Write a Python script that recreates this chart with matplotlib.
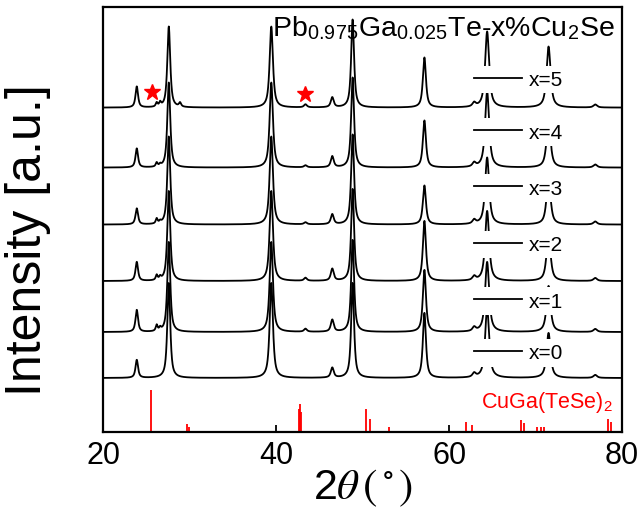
import numpy as np
import matplotlib
matplotlib.use("Agg")
import matplotlib.pyplot as plt
from matplotlib.lines import Line2D

plt.rcParams['font.family'] = ['Liberation Sans', 'DejaVu Sans']
plt.rcParams['mathtext.fontset'] = 'stix'

# ---------------- data ----------------
samples = ['x=0', 'x=1', 'x=2', 'x=3', 'x=4', 'x=5']
# peak positions (2theta, deg) and widths
peak_pos = [23.9, 26.2, 26.6, 27.6, 28.9, 39.45, 43.4, 46.5, 48.85, 57.15, 62.9, 64.4, 71.5, 76.9]
peak_fwhm = [0.35, 0.25, 0.25, 0.40, 0.30, 0.45, 0.40, 0.40, 0.40, 0.42, 0.45, 0.55, 0.55, 0.50]
# peak heights per sample (a.u.)
h_x0 = [18, 0, 0, 95, 0, 95, 0, 10, 95, 65, 4, 70, 45, 3]
h_x1 = [22, 6, 3, 90, 0, 90, 3, 12, 92, 62, 4, 70, 46, 3]
h_x2 = [19, 5, 3, 90, 0, 90, 3, 12, 92, 60, 4, 70, 47, 3]
h_x3 = [16, 5, 2, 88, 0, 88, 2, 10, 90, 39, 4, 67, 47, 3]
h_x4 = [19, 4, 2, 85, 0, 85, 2, 11, 90, 47, 4, 76, 48, 3]
h_x5 = [21, 4, 4, 81, 4, 81, 3, 10, 88, 50, 4, 76, 61, 3]
heights = [h_x0, h_x1, h_x2, h_x3, h_x4, h_x5]
offsets = [54, 100, 151, 207.5, 264.5, 324.5]

# CuGa(TeSe)2 reference pattern
ref_pos = [25.6, 29.7, 29.9, 42.6, 42.75, 42.85, 50.45, 50.85, 53.1,
           61.9, 62.6, 68.35, 68.65, 70.2, 70.6, 71.0, 78.4, 78.7]
ref_int = [42, 8, 5, 23, 28, 20, 23, 13, 5,
           10, 7, 12, 9, 5, 5, 5, 13, 10]

star_pos = [25.7, 43.35]
star_y = [340, 338]

xticks = [20, 40, 60, 80]

# ---------------- figure ----------------
fig = plt.figure(figsize=(6.4, 5.1), dpi=100)
ax = fig.add_axes([0.161, 0.151, 0.811, 0.833])

tt = np.linspace(20, 80, 6001)
for off, hs in zip(offsets, heights):
    y = np.zeros_like(tt) + off
    for p, w, h in zip(peak_pos, peak_fwhm, hs):
        g = (w / 2) ** 2
        lor = g / ((tt - p) ** 2 + g)
        gau = np.exp(-4 * np.log(2) * (tt - p) ** 2 / w ** 2)
        y += h * (0.8 * lor + 0.2 * gau)
    ax.plot(tt, y, color='black', lw=1.3, zorder=2)

ax.vlines(ref_pos, 0, ref_int, color='red', lw=1.3, zorder=2)
ax.plot(star_pos, star_y, linestyle='none', marker='*', color='red',
        markersize=12, zorder=3)

ax.text(0.326, 0.934, r'Pb$_\mathregular{0.975}$Ga$_\mathregular{0.025}$Te-x%Cu$_\mathregular{2}$Se',
        transform=ax.transAxes, fontsize=20.5, va='baseline', ha='left', zorder=6)
ax.text(0.728, 0.059, r'CuGa(TeSe)$_\mathregular{2}$', color='red',
        transform=ax.transAxes, fontsize=15.5, va='baseline', ha='left', zorder=6)

label_y = [0.186, 0.308, 0.441, 0.574, 0.706, 0.829]
for lab, ly in zip(samples, label_y):
    leg = ax.legend([Line2D([], [], color='black', lw=1.3)], [lab],
                    loc='center left', bbox_to_anchor=(0.707, ly),
                    frameon=True, fancybox=False, framealpha=1,
                    edgecolor='none', facecolor='white', fontsize=15,
                    handlelength=2.3, handletextpad=0.3, borderpad=0.2,
                    borderaxespad=0)
    ax.add_artist(leg)

ax.set_xlim(20, 80)
ax.set_ylim(0, 425)
ax.set_xticks(xticks)
ax.set_yticks([])
ax.tick_params(axis='x', direction='in', length=5, width=1.3, labelsize=22, pad=6)
for s in ax.spines.values():
    s.set_linewidth(1.6)
ax.set_xlabel(r'2$\theta\,(^\circ)$', fontsize=31, labelpad=-3)
ax.set_ylabel('Intensity [a.u.]', fontsize=36)
ax.yaxis.set_label_coords(-0.10, 0.455)

fig.savefig('out.png', dpi=100)
